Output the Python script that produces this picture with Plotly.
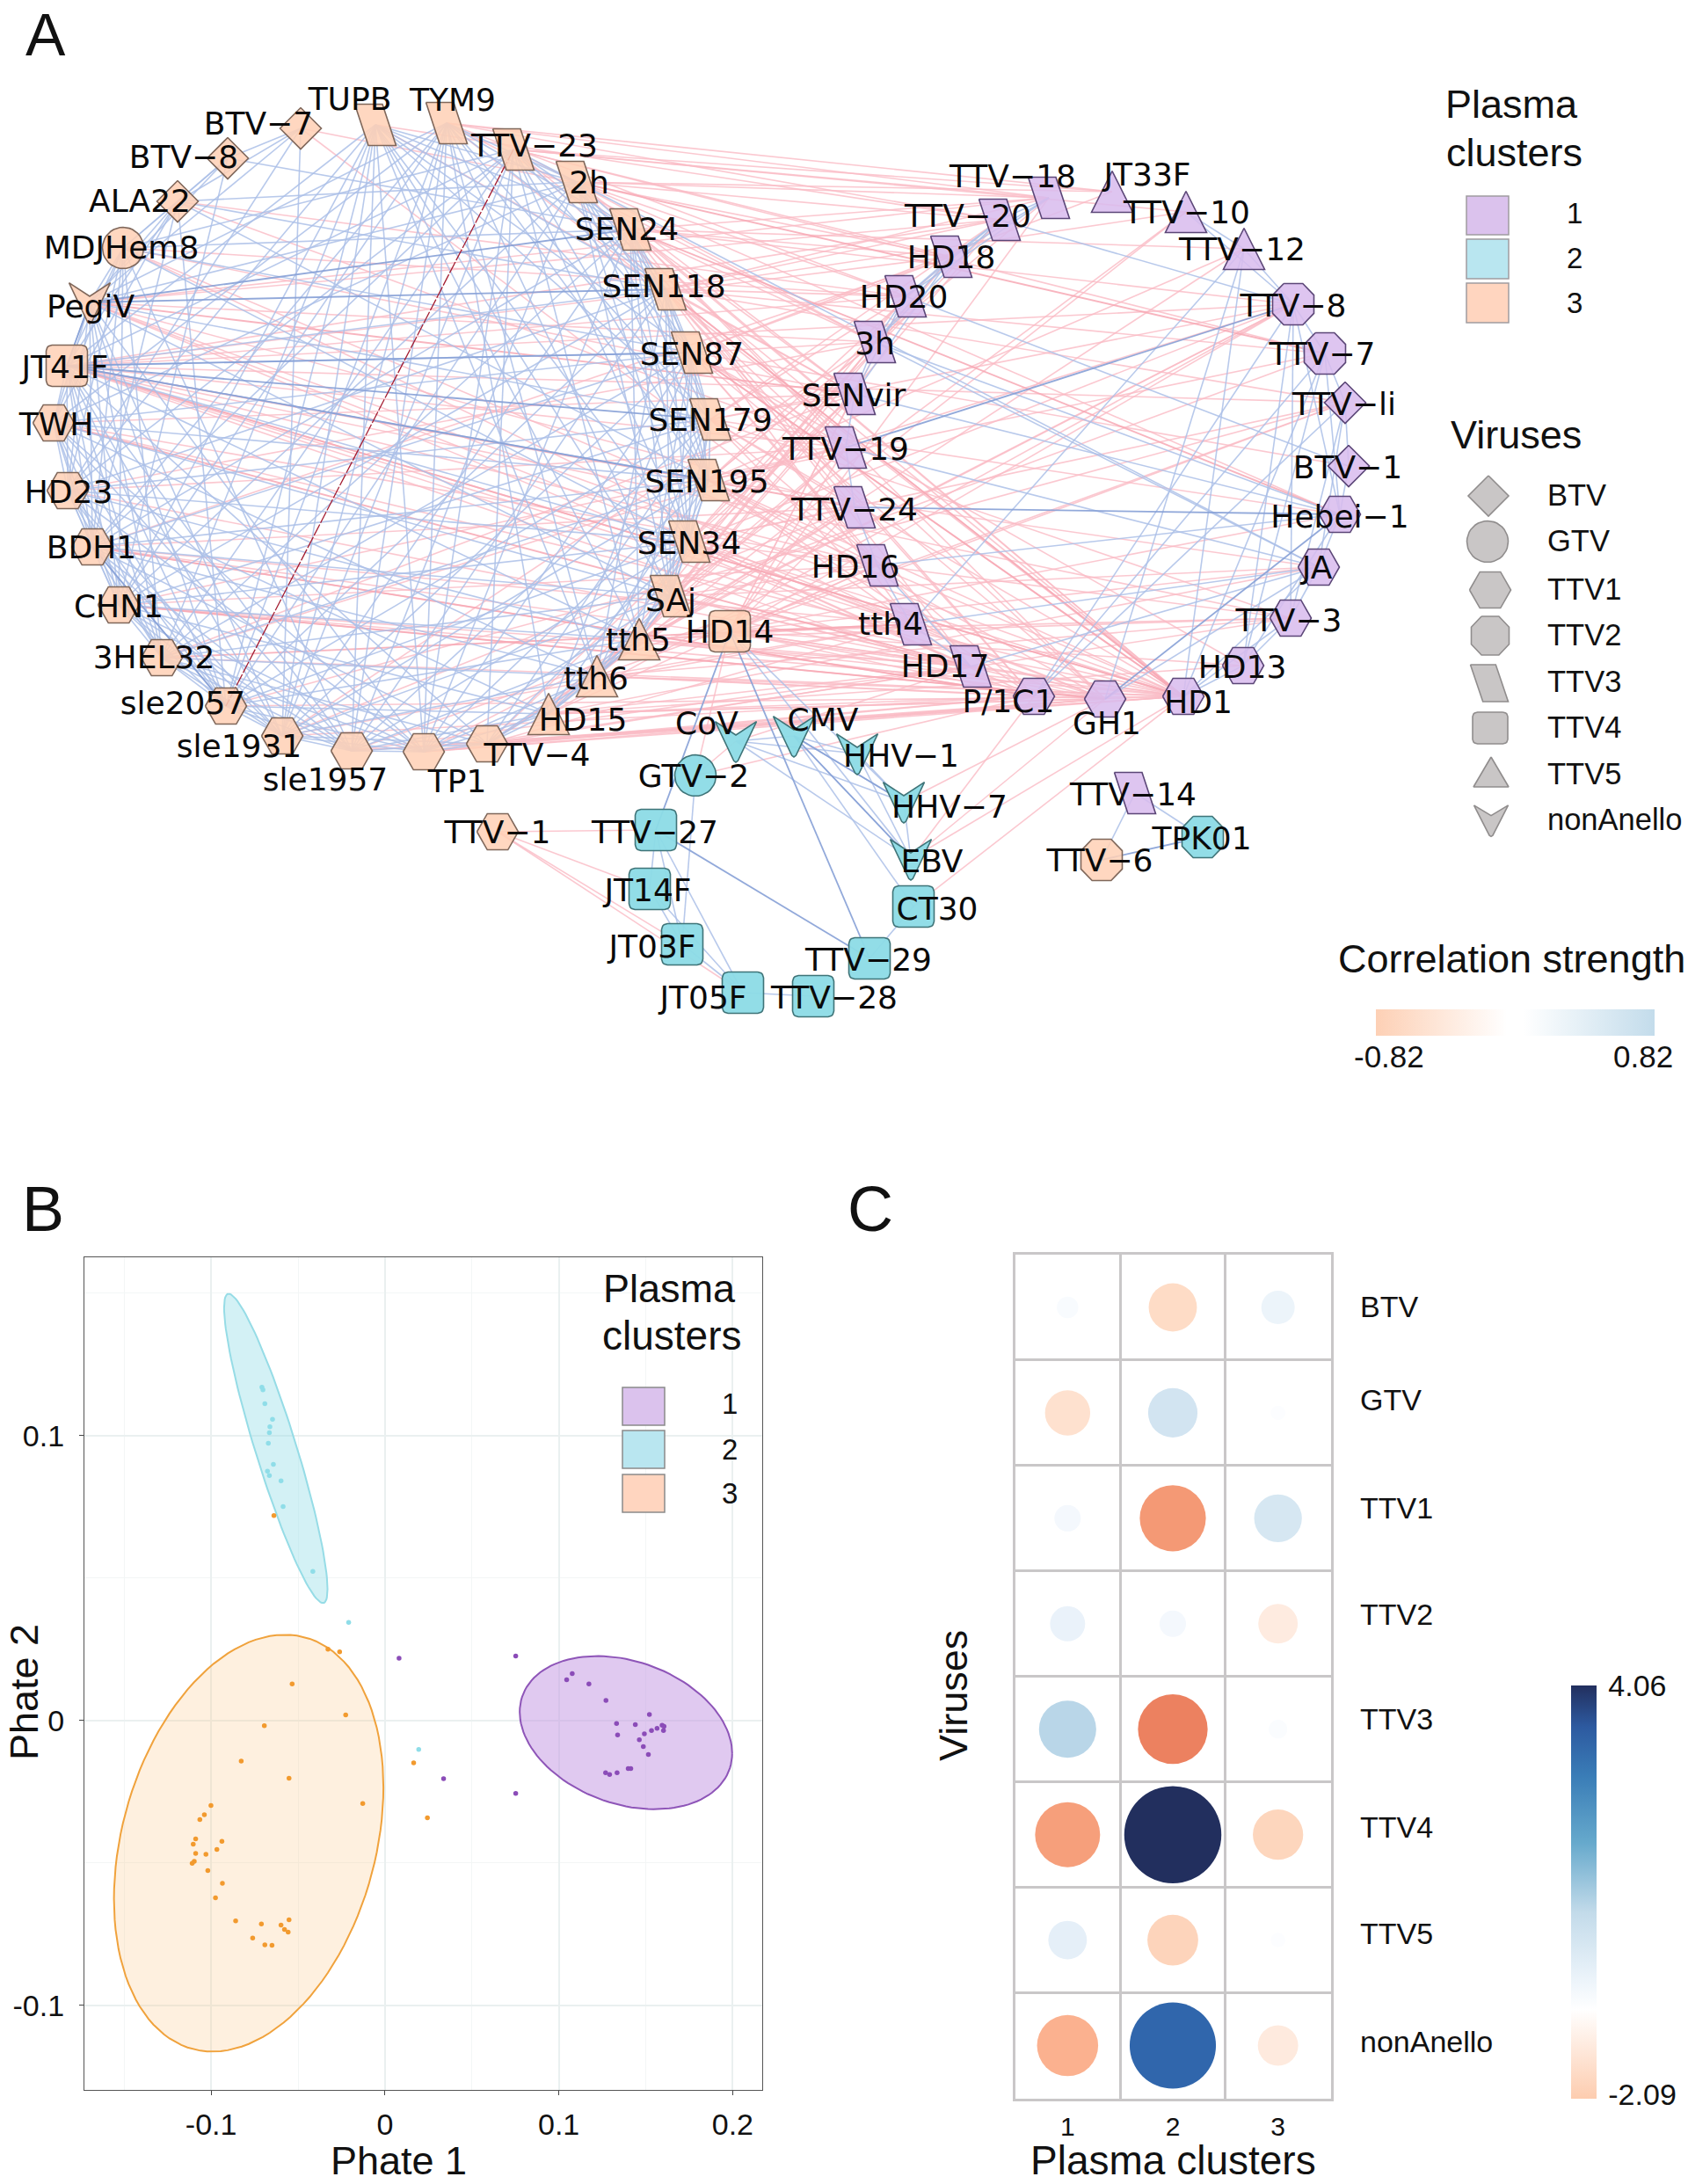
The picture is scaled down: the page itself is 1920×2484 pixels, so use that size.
import math
import plotly.graph_objects as go

W, H = 1920, 2484
SANS = "Liberation Sans"
NET = "DejaVu Sans"

# ---------- Panel A: network ----------
node_names = ["TUPB","TYM9","TTV−23","2h","SEN24","SEN118","SEN87","SEN179","SEN195","SEN34","SAj","HD14","tth5","tth6","HD15","TTV−4","TP1","sle1957","sle1931","sle2057","3HEL32","CHN1","BDH1","HD23","TWH","JT41F","PegiV","MDJHem8","ALA22","BTV−8","BTV−7","TTV−1","TTV−6",
              "TTV−18","JT33F","TTV−10","TTV−12","TTV−8","TTV−7","TTV−li","BTV−1","Hebei−1","JA","TTV−3","HD13","HD1","GH1","P/1C1","HD17","tth4","HD16","TTV−24","TTV−19","SENvir","3h","HD20","HD18","TTV−20","TTV−14",
              "CoV","CMV","HHV−1","HHV−7","EBV","CT30","TTV−29","TTV−28","JT05F","JT03F","JT14F","TTV−27","GTV−2","TPK01"]
node_x = [427,508,584,656,717,757,787,808,806,784,763,830,727,679,624,554,482,400,321,257,184,135,105,77,61,76,102,140,202,259,342,566,1253,
          1193,1265,1349,1415,1471,1507,1530,1534,1524,1500,1468,1414,1346,1257,1176,1104,1036,998,972,962,972,995,1030,1082,1137,1291,
          837,903,975,1028,1036,1039,989,925,845,776,739,746,791,1368]
node_y = [142,140,170,207,261,329,401,477,546,616,678,718,727,769,812,846,855,854,837,803,748,688,622,558,481,416,344,282,229,180,146,946,978,
          225,218,241,283,346,402,458,530,585,645,703,757,792,795,792,758,710,643,577,509,448,389,337,292,250,902,
          843,837,857,912,977,1031,1090,1133,1129,1074,1011,944,882,952]
label_x = [398,515,608,670,713,755,787,808,804,784,763,830,726,678,663,611,520,370,272,208,175,135,104,78,64,74,103,138,159,209,294,566,1251,
           1152,1305,1350,1413,1471,1504,1529,1533,1524,1498,1466,1413,1363,1259,1147,1075,1013,973,972,962,971,995,1028,1082,1101,1289,
           804,936,1025,1080,1060,1066,988,949,800,742,737,745,789,1367]
label_y = [116,117,169,211,264,329,406,481,551,621,686,722,731,775,822,862,892,890,852,803,751,693,626,563,486,421,352,285,232,182,144,950,982,
           204,202,245,287,351,406,463,535,591,649,709,762,802,826,801,761,713,648,583,514,453,394,341,296,249,907,
           826,822,863,921,983,1037,1095,1138,1138,1080,1016,950,886,957]
node_shape = ["TTV3"]*11 + ["TTV4"] + ["TTV5"]*3 + ["TTV1"]*10 + ["TTV4","nonAnello","GTV","BTV","BTV","BTV","TTV1","TTV2"] + \
             ["TTV3"] + ["TTV5"]*3 + ["TTV2"]*2 + ["BTV"]*2 + ["TTV1"]*7 + ["TTV3"]*11 + \
             ["nonAnello"]*5 + ["TTV4"]*7 + ["GTV","TTV2"]
node_cluster = [3]*33 + [1]*26 + [2]*14

blue_adj = {
 0:[3,4,5,6,7,9,10,12,13,16,17,18,19,20,21,23,25],
 1:[3,4,5,7,8,10,13,14,16,17,18,19,21,22,24,26],
 2:[3,4,5,6,8,9,12,15,16,18,20,22,23,25,27],
 3:[4,5,6,7,8,9,10,17,19,21,24,26,28,42],
 4:[5,6,7,8,9,10,12,16,18,20,22,27,29],
 5:[6,7,8,9,10,13,17,19,21,23,25,28],
 6:[7,8,9,10,12,14,16,18,20,22,24,25,27],
 7:[8,9,10,13,15,17,19,21,23,26],
 8:[9,10,12,14,16,18,20,22,24,25,28],
 9:[10,12,13,15,17,19,21,23,25,27],
 10:[12,13,14,16,18,20,22,24,26],
 11:[62,63],
 12:[13,14,15,17,19,21,23,25],
 13:[14,15,16,18,20,22,24],
 14:[15,16,17,19,21,23],
 15:[16,17,18,20,22,25],
 16:[17,18,19,20,21,23,24,26],
 17:[18,19,20,21,22,24,25,27],
 18:[19,20,21,22,23,25,26,30],
 19:[20,21,22,23,24,25,26,28],
 20:[21,22,23,24,25,26,27],
 21:[22,23,24,25,26,27,29],
 22:[23,24,25,26,27,28],
 23:[24,25,26,27,30],
 24:[25,26,27,28],
 25:[26,27,28],
 26:[27,28,29,30],
 27:[28,29],
 28:[29,30],
 29:[30],
 33:[55,56,57],
 35:[36,37],
 36:[37,45,46,49],
 37:[38,41,43,44,47,57],
 38:[39,41,44,45,47],
 39:[40,42,43,47],
 40:[41,55],
 41:[42,44,50,53,54],
 42:[43,45,46,48,49,52,54],
 43:[44,45],
 44:[45],
 48:[49,50],
 49:[50],
 50:[51],
 51:[52],
 52:[53],
 53:[54,55,56],
 54:[55,56,57],
 55:[56,57],
 56:[57],
 59:[60,61,62,63],
 60:[61,62,63,64],
 61:[62,63],
 62:[63],
 64:[65],
 66:[67],
 67:[68,69,70],
 68:[69,70,71],
 69:[70],
 58:[32,72],
}
blue_strong = [(26,4),(26,5),(25,6),(25,8),(25,7),(52,37),(51,41),(46,41),(32,72),(11,70),(11,65),(70,65),(60,63),(60,62),(22,19),(26,25)]
pink_adj = {
 45:[1,2,3,4,5,6,7,8,9,10,11,12,13,14,15,16,17,19,20,21,22,24,25,26,27],
 46:[2,4,6,8,9,10,11,12,13,14,15,16,17,21,25,26,63,62],
 47:[3,5,7,8,9,11,13,14,15,16,18,22,25,63,71],
 48:[4,6,8,9,10,11,12,14,15,17,21,23,26,59],
 49:[5,7,9,11,12,13,15,18,22,25,27],
 50:[6,8,10,11,14,17,21,24,25,30],
 51:[5,7,9,11,12,15,18,22,26],
 52:[4,6,8,10,11,13,14,21,23,25,28],
 53:[0,3,4,5,7,9,11,12,15,20,24,27],
 54:[1,2,4,6,8,10,12,18,23,26],
 55:[1,3,5,7,9,11,13,25,27,28],
 56:[2,4,6,8,10,14,22,25,30],
 57:[0,1,3,5,7,9,12,25,26],
 33:[1,2,3,4,5,8,11,26],
 34:[1,2,3,6],
 35:[2,5,10,13],
 36:[4,8,15],
 37:[4,7,9,11,12,14,16,20,25],
 38:[2,5,8,10],
 39:[5,9,11,13,19,25],
 40:[6],
 41:[3,7,11],
 42:[8,10,11,14],
 43:[7,9,11,12,13,16,25],
 44:[6,11,14],
 31:[70,67,68,69],
 64:[45],
 63:[45],
 71:[11,59],
}
pink_strong = [(24,48),(22,47),(21,46),(25,45),(26,53),(5,45),(6,45),(38,3),(41,4),(20,49),(25,51)]
red_edges = [(2,19)]

cluster_fill = {1:"rgba(216,188,238,0.86)", 2:"rgba(140,219,230,0.95)", 3:"rgba(255,209,182,0.86)"}
cluster_line = {1:"#5B4677", 2:"#3F7478", 3:"#7F675A"}
legend_labels = ["1", "2", "3"]
legend_colors = ["#DBC2ED", "#B9E6F0", "#FFD5BF"]
virus_types = ["BTV", "GTV", "TTV1", "TTV2", "TTV3", "TTV4", "TTV5", "nonAnello"]

# ---------- Panel B: Phate scatter ----------
p1_x = [.0081,.0752,.0337,.0752,.1045,.1077,.1173,.1271,.1332,.1338,.1440,.1521,.1463,.1492,.1486,.1515,.1533,.1565,.1594,.1605,.1602,.1269,.1292,.1335,.1399,.1414]
p1_y = [.0218,.0226,-.0205,-.0256,.0143,.0164,.0128,.0070,-.0011,-.0051,-.0015,.0021,-.0068,-.0047,-.0092,-.0120,-.0036,-.0028,-.0017,-.0021,-.0036,-.0184,-.0190,-.0184,-.0169,-.0169]
p2_x = [-.0708,-.0702,-.0691,-.0647,-.0662,-.0665,-.0671,-.0642,-.0676,-.0665,-.0598,-.0586,-.0415,-.0209,.0194]
p2_y = [.1170,.1161,.1112,.1057,.1031,.1010,.0973,.0899,.0875,.0860,.0841,.0751,.0523,.0344,-.0102]
p3_x = [-.0639,-.0328,-.0261,-.0534,-.0226,-.0694,-.0827,-.0552,-.0128,.0244,.0165,-.1001,-.1039,-.1065,-.1089,-.1103,-.0938,-.0967,-.1089,-.1030,-.1109,-.1097,-.1019,-.0935,-.0975,-.0859,-.0711,-.0761,-.0691,-.0650,-.0598,-.0552,-.0578,-.0557]
p3_y = [.0719,.0250,.0241,.0128,.0019,-.0019,-.0143,-.0203,-.0292,-.0342,-.0149,-.0299,-.0331,-.0348,-.0416,-.0435,-.0425,-.0453,-.0467,-.0470,-.0502,-.0495,-.0527,-.0572,-.0623,-.0704,-.0715,-.0764,-.0788,-.0790,-.0719,-.0700,-.0734,-.0743]
# ellipse: centre x, centre y, half-width, half-height, correlation
ell_1 = (.1386, -.0043, .0611, .0269, -.27)
ell_2 = (-.0628, .0955, .02975, .0543, -.91)
ell_3 = (-.0784, -.0431, .0775, .0732, .268)

# ---------- Panel C: bubble matrix ----------
c_clusters = ["1", "2", "3"]
c_viruses = ["BTV", "GTV", "TTV1", "TTV2", "TTV3", "TTV4", "TTV5", "nonAnello"]
c_values = [[.20, -1.00, .48],
            [-.88, 1.05, .09],
            [.30, -1.88, .98],
            [.53, .30, -.67],
            [1.41, -2.09, .15],
            [-1.82, 4.06, -1.09],
            [.64, -1.11, .09],
            [-1.61, 3.20, -.70]]
c_scale_min, c_scale_max = -2.09, 4.06


def unit_shape(kind):
    if kind == "BTV":
        return [(0, -1), (1, 0), (0, 1), (-1, 0)]
    if kind == "GTV":
        return [(math.cos(i * math.pi / 20), math.sin(i * math.pi / 20)) for i in range(40)]
    if kind == "TTV1":
        return [(-1, 0), (-.5, -.875), (.5, -.875), (1, 0), (.5, .875), (-.5, .875)]
    if kind == "TTV2":
        return [(-.46, -1), (.46, -1), (1, -.44), (1, .44), (.46, 1), (-.46, 1), (-1, .44), (-1, -.44)]
    if kind == "TTV3":
        return [(-1, -1), (.34, -1), (1, 1), (-.34, 1)]
    if kind == "TTV4":
        pts, r = [], .28
        for cx, cy, a0 in [(1 - r, -1 + r, -90), (1 - r, 1 - r, 0), (-1 + r, 1 - r, 90), (-1 + r, -1 + r, 180)]:
            for k in range(6):
                a = math.radians(a0 + k * 18)
                pts.append((cx + r * math.cos(a), cy + r * math.sin(a)))
        return pts
    if kind == "TTV5":
        return [(0, -1), (1, 1), (-1, 1)]
    return [(-1, -.95), (0, -.3), (1, -.95), (.1, .95), (0, 1.02), (-.1, .95)]


def outlines(xs, ys, kinds, ws, hs):
    ox, oy = [], []
    for x, y, k, w, h in zip(xs, ys, kinds, ws, hs):
        pts = unit_shape(k)
        ox += [x + p[0] * w / 2 for p in pts] + [x + pts[0][0] * w / 2, None]
        oy += [y + p[1] * h / 2 for p in pts] + [y + pts[0][1] * h / 2, None]
    return ox, oy


def edge_xy(pairs):
    ex, ey = [], []
    for a, b in pairs:
        ex += [node_x[a], node_x[b], None]
        ey += [node_y[a], node_y[b], None]
    return ex, ey


def adj_pairs(adj):
    return [(a, b) for a, bs in adj.items() for b in bs]


def ellipse_xy(e):
    cx, cy, rx, ry, rho = e
    phi = math.acos(rho)
    ts = [i * 2 * math.pi / 120 for i in range(121)]
    return [cx + rx * math.cos(t) for t in ts], [cy + ry * math.cos(t - phi) for t in ts]


fig = go.Figure()

# edges
for pairs, col, wd, dash in [(adj_pairs(pink_adj), "rgba(250,186,196,0.8)", 1.6, "solid"),
                             (pink_strong, "rgba(247,168,180,0.85)", 1.9, "solid"),
                             (adj_pairs(blue_adj), "rgba(172,192,232,0.85)", 1.6, "solid"),
                             (blue_strong, "rgba(134,160,214,0.9)", 1.8, "solid"),
                             (red_edges, "#A41E32", 1.3, "14px,2px")]:
    ex, ey = edge_xy(pairs)
    fig.add_trace(go.Scatter(x=ex, y=ey, mode="lines", line=dict(color=col, width=wd, dash=dash), hoverinfo="skip", showlegend=False))

# nodes
for c in (1, 2, 3):
    idx = [i for i in range(len(node_names)) if node_cluster[i] == c]
    ox, oy = outlines([node_x[i] for i in idx], [node_y[i] for i in idx], [node_shape[i] for i in idx],
                      [47] * len(idx), [47] * len(idx))
    fig.add_trace(go.Scatter(x=ox, y=oy, mode="lines", fill="toself", fillcolor=cluster_fill[c],
                             line=dict(color=cluster_line[c], width=1.6), hoverinfo="skip", showlegend=False))

# labels
fig.add_trace(go.Scatter(x=label_x, y=label_y, text=node_names, mode="text", textposition="middle center",
                         textfont=dict(family=NET, size=36, color="#0A0A0A"), hoverinfo="skip", showlegend=False))

# virus legend glyphs
legend_vx = [1693, 1692, 1695, 1695, 1694, 1695, 1696, 1696]
legend_vy = [564, 616, 671, 723, 777, 828, 878, 933]
legend_vw = [46, 47, 47, 43, 43, 40, 40, 39]
legend_vh = [46, 47, 47, 44, 42, 36, 34, 36]
ox, oy = outlines(legend_vx, legend_vy, virus_types, legend_vw, legend_vh)
fig.add_trace(go.Scatter(x=ox, y=oy, mode="lines", fill="toself", fillcolor="#C9C6C6",
                         line=dict(color="#908D8D", width=1.6), hoverinfo="skip", showlegend=False))
fig.add_trace(go.Scatter(x=[1760] * 8, y=[566, 618, 673, 725, 778, 830, 883, 935], text=virus_types, mode="text",
                         textposition="middle right", textfont=dict(family=SANS, size=34.5, color="#111"),
                         hoverinfo="skip", showlegend=False))

# colourbars (legend only)
fig.add_trace(go.Scatter(x=[None], y=[None], mode="markers", hoverinfo="skip", showlegend=False,
    marker=dict(color=[0], cmin=-0.82, cmax=0.82,
                colorscale=[[0, "#FDD0B5"], [.47, "#FFFFFF"], [.53, "#FFFFFF"], [1, "#C3DCEB"]],
                showscale=True,
                colorbar=dict(orientation="h", xref="paper", yref="paper", x=1565 / W, xanchor="left",
                              y=1 - 1178 / H, yanchor="bottom", thickness=30, thicknessmode="pixels",
                              len=317, lenmode="pixels", xpad=0, ypad=0, outlinewidth=0,
                              showticklabels=False, ticks=""))))
fig.add_trace(go.Scatter(x=[None], y=[None], mode="markers", hoverinfo="skip", showlegend=False,
    marker=dict(color=[0], cmin=c_scale_min, cmax=c_scale_max,
                colorscale=[[0, "#FDCCAF"], [.216, "#FFFFFF"], [.28, "#EEF5FB"], [.45, "#C3DBEA"], [.62, "#66A9CC"],
                            [.78, "#3A7DB7"], [.9, "#2D5AA0"], [1, "#222F5E"]],
                showscale=True,
                colorbar=dict(xref="paper", yref="paper", x=1787 / W, xanchor="left",
                              y=1 - 2387 / H, yanchor="bottom", thickness=29, thicknessmode="pixels",
                              len=470, lenmode="pixels", xpad=0, ypad=0, outlinewidth=0,
                              tickvals=[-2.025, c_scale_max], ticktext=["-2.09", "4.06"], ticks="outside", ticklen=7,
                              tickcolor="rgba(0,0,0,0)", tickfont=dict(family=SANS, size=34, color="#111")))))

# Panel B
for e, line, fill in [(ell_1, "#8E55B8", "rgba(193,148,226,0.5)"), (ell_2, "#96DCE6", "rgba(150,222,232,0.42)"),
                      (ell_3, "#F0A23C", "rgba(250,200,140,0.28)")]:
    ex, ey = ellipse_xy(e)
    fig.add_trace(go.Scatter(x=ex, y=ey, xaxis="x2", yaxis="y2", mode="lines", fill="toself", fillcolor=fill,
                             line=dict(color=line, width=2), hoverinfo="skip", showlegend=False))
for xs, ys, col in [(p1_x, p1_y, "#8B4CB8"), (p2_x, p2_y, "#8FDDE8"), (p3_x, p3_y, "#F29A2E")]:
    fig.add_trace(go.Scatter(x=xs, y=ys, xaxis="x2", yaxis="y2", mode="markers",
                             marker=dict(color=col, size=5.5), hoverinfo="skip", showlegend=False))

# Panel C
bx, by, bv, bs = [], [], [], []
for r, name in enumerate(c_viruses):
    for k, cl in enumerate(c_clusters):
        bx.append(cl)
        by.append(name)
        bv.append(c_values[r][k])
        bs.append(abs(c_values[r][k]))
stops = [(-2.09, "#EC8160"), (-1.85, "#F59C78"), (-1.6, "#FBB290"), (-1.1, "#FDD5BC"), (-1.0, "#FEDCC6"), (-.67, "#FEEBE0"),
         (0, "#FFFFFF"), (.2, "#F8FBFE"), (.5, "#EBF3FA"), (1.0, "#D5E6F2"), (1.41, "#B9D6E8"), (3.2, "#3066AC"), (4.06, "#222F5E")]
span = c_scale_max - c_scale_min
fig.add_trace(go.Scatter(x=bx, y=by, xaxis="x3", yaxis="y3", mode="markers", hoverinfo="skip", showlegend=False,
    marker=dict(size=bs, sizemode="area", sizeref=2 * c_scale_max / 110.5 ** 2, color=bv, cmin=c_scale_min, cmax=c_scale_max,
                colorscale=[[(v - c_scale_min) / span, c] for v, c in stops], showscale=False, line=dict(width=0), opacity=1)))

ann = []


def T(x, y, s, size, anchor="center", angle=0, family=SANS, color="#111"):
    ann.append(dict(x=x, y=y, xref="x", yref="y", text=s, showarrow=False, xanchor=anchor, yanchor="middle",
                    textangle=angle, font=dict(family=family, size=size, color=color)))


T(52, 39, "A", 68); T(49, 1375, "B", 72); T(990, 1375, "C", 72)
T(1719, 118, "Plasma", 45); T(1722, 173, "clusters", 45); T(1724, 494, "Viruses", 45)
T(1719, 1090, "Correlation strength", 45)
T(1580, 1201, "-0.82", 35); T(1869, 1201, "0.82", 35)
for lab, y in zip(legend_labels, [242, 293, 344]):
    T(1791, y, lab, 33)
T(761, 1465, "Plasma", 45); T(764, 1519, "clusters", 46)
for lab, y in zip(legend_labels, [1596, 1648, 1698]):
    T(830, y, lab, 33)
T(453, 2457, "Phate 1", 45); T(27, 1925, "Phate 2", 45, angle=-90)
T(1334, 2457, "Plasma clusters", 46); T(1084, 1929, "Viruses", 45, angle=-90)
for lab, y in zip(c_viruses, [1486, 1592, 1715, 1836, 1955, 2078, 2199, 2322]):
    T(1545, y, lab, 34, anchor="left")

shapes = []
for col, (y0, y1) in zip(legend_colors, [(223, 267), (272, 317), (322, 367)]):
    shapes.append(dict(type="rect", xref="x", yref="y", x0=1668, x1=1716, y0=y0, y1=y1, fillcolor=col,
                       line=dict(color="#A09CA0", width=1.5), layer="above"))
for col, (y0, y1) in zip(legend_colors, [(1578, 1621), (1627, 1670), (1677, 1720)]):
    shapes.append(dict(type="rect", xref="x", yref="y", x0=708, x1=756, y0=y0, y1=y1, fillcolor=col,
                       line=dict(color="#8A8A8A", width=1.5), layer="above"))

b_ticks = dict(tickfont=dict(family=SANS, size=34, color="#111"), ticks="outside", ticklen=5, tickcolor="#444",
               showline=True, linecolor="#555", linewidth=1.2, mirror=True, zeroline=False,
               gridcolor="#EAF0F0", gridwidth=1.5, showgrid=True)
cell_axis = dict(type="category", tickson="boundaries", showgrid=True, gridcolor="#C9C7C8", gridwidth=2.5,
                 showline=True, linecolor="#C9C7C8", linewidth=2.5, mirror=True, zeroline=False, ticks="")

fig.update_layout(
    width=W, height=H, margin=dict(l=0, r=0, t=0, b=0, pad=0), autosize=False,
    paper_bgcolor="white", plot_bgcolor="rgba(0,0,0,0)", showlegend=False,
    xaxis=dict(domain=[0, 1], range=[0, W], visible=False, fixedrange=True),
    yaxis=dict(domain=[0, 1], range=[H, 0], visible=False, fixedrange=True),
    xaxis2=dict(domain=[96 / W, 866.8 / W], anchor="y2", range=[-.1729, .2169], tickvals=[-.1, 0, .1, .2],
                ticktext=["-0.1", "0", "0.1", "0.2"], ticklabelstandoff=5,
                minor=dict(tickvals=[-.15, -.05, .05, .15], showgrid=True, gridcolor="#F3F6F6", gridwidth=1, ticks=""), **b_ticks),
    yaxis2=dict(domain=[1 - 2376.5 / H, 1 - 1429.7 / H], anchor="x2", range=[-.1296, .1627], tickvals=[-.1, 0, .1],
                ticktext=["-0.1", "0", "0.1"], ticklabelstandoff=10,
                minor=dict(tickvals=[-.05, .05, .15], showgrid=True, gridcolor="#F3F6F6", gridwidth=1, ticks=""), **b_ticks),
    xaxis3=dict(domain=[1154.5 / W, 1513.5 / W], anchor="y3", range=[-.5, 2.5], categoryorder="array", categoryarray=c_clusters,
                tickfont=dict(family=SANS, size=30, color="#111"), ticklabelstandoff=4, **cell_axis),
    yaxis3=dict(domain=[1 - 2386.5 / H, 1 - 1427 / H], anchor="x3", range=[7.5, -.5], categoryorder="array", categoryarray=c_viruses,
                showticklabels=False, **cell_axis),
    annotations=ann, shapes=shapes,
)

fig.write_html("out.html", config=dict(displayModeBar=False),
               post_script="document.body.style.margin='0';document.documentElement.style.overflow='hidden';")
